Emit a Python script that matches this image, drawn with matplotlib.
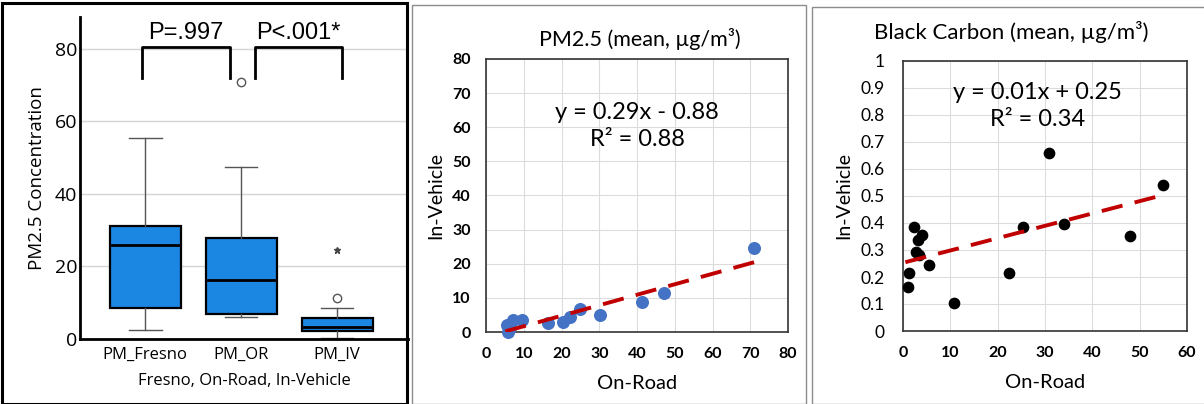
#!/usr/bin/env python3
"""Fresno / on-road / in-vehicle PM2.5 boxplot plus two in-vehicle vs on-road scatters."""

import matplotlib

matplotlib.use("Agg")
import matplotlib.pyplot as plt
import numpy as np
from matplotlib.patches import Rectangle

plt.rcParams["font.family"] = ["Lato", "DejaVu Sans"]

# ---- data ------------------------------------------------------------------
box_labels = ["PM_Fresno", "PM_OR", "PM_IV"]
box_q1 = [8.5, 6.8, 2.3]
box_med = [25.8, 16.3, 3.4]
box_q3 = [31.3, 27.8, 5.7]
box_whislo = [2.4, 6.2, 0.3]
box_whishi = [55.5, 47.5, 8.6]
box_outliers = [[], [71.0], [11.3]]
box_extremes = [[], [], [24.6]]
p_labels = ["P=.997", "P<.001*"]

pm_on_road = [5.6, 5.8, 6.4, 7.2, 9.5, 16.3, 20.4, 22.3, 25.0, 30.3, 41.3, 47.2, 70.9]
pm_in_vehicle = [2.0, 0.1, 1.2, 3.6, 3.4, 2.7, 2.9, 4.3, 6.7, 5.1, 8.7, 11.4, 24.6]
pm_eq = "y = 0.29x - 0.88\nR² = 0.88"

bc_on_road = [1.0, 1.3, 2.3, 2.8, 3.1, 3.3, 4.1, 5.4, 10.8, 22.3, 25.4, 30.8, 34.1, 47.9, 54.9]
bc_in_vehicle = [0.164, 0.216, 0.384, 0.294, 0.338, 0.28, 0.354, 0.243, 0.105, 0.216, 0.384,
                 0.660, 0.396, 0.353, 0.541]
bc_eq = "y = 0.01x + 0.25\nR² = 0.34"

W, H = 1204, 404
fig = plt.figure(figsize=(W / 100, H / 100), dpi=100)


def px_axes(left, top, right, bottom):
    return fig.add_axes([left / W, 1 - bottom / H, (right - left) / W, (bottom - top) / H])


def px_frame(left, top, right, bottom, color, lw):
    fig.add_artist(Rectangle((left / W, 1 - bottom / H), (right - left) / W, (bottom - top) / H,
                             transform=fig.transFigure, fill=False, edgecolor=color, linewidth=lw))


px_frame(1.5, 3, 407, 404.5, "black", 2.2)
px_frame(412, 5, 806, 404.5, "#8c8c8c", 1.0)
px_frame(812, 7, 1206, 404.5, "#8c8c8c", 1.0)

# ---- panel 1: boxplot -------------------------------------------------------
ax1 = px_axes(80, 17, 408, 339)
stats = []
for i, lab in enumerate(box_labels):
    stats.append(dict(label=lab, q1=box_q1[i], med=box_med[i], q3=box_q3[i],
                      whislo=box_whislo[i], whishi=box_whishi[i], fliers=box_outliers[i]))
ax1.bxp(stats, positions=[1, 2, 3], widths=0.74, patch_artist=True, capwidths=0.34,
        boxprops=dict(facecolor="#1c86e3", edgecolor="black", linewidth=1.6),
        medianprops=dict(color="black", linewidth=2.0),
        whiskerprops=dict(color="#555555", linewidth=1.0),
        capprops=dict(color="#555555", linewidth=1.0),
        flierprops=dict(marker="o", markersize=6, markerfacecolor="white",
                        markeredgecolor="#555555", markeredgewidth=1.0))
for i, ext in enumerate(box_extremes):
    if ext:
        ax1.plot([i + 1] * len(ext), ext, linestyle="none", marker="*", markersize=4.5,
                 color="#444444")
ax1.set_xlim(0.32, 3.74)
ax1.set_ylim(0, 88.8)
ax1.set_yticks([0, 20, 40, 60, 80])
ax1.grid(axis="y", color="#d4d4d4", linewidth=1.0)
ax1.set_axisbelow(True)
ax1.tick_params(axis="y", length=0, labelsize=14, pad=2)
ax1.tick_params(axis="x", length=0, labelsize=12, pad=6)
for lab in ax1.get_xticklabels() + ax1.get_yticklabels():
    lab.set_fontfamily("Open Sans")
for side in ("top", "right"):
    ax1.spines[side].set_visible(False)
for side in ("left", "bottom"):
    ax1.spines[side].set_linewidth(2.0)
ax1.set_ylabel("PM2.5 Concentration", fontsize=13.5, family="Open Sans", labelpad=6)
ax1.set_xlabel("Fresno, On-Road, In-Vehicle", fontsize=12, family="Open Sans", labelpad=7)

brackets = [(0.97, 1.88), (2.14, 3.05)]
for (x0, x1), txt in zip(brackets, p_labels):
    ax1.plot([x0, x0, x1, x1], [72, 80.5, 80.5, 72], color="black", linewidth=2.0,
             clip_on=False)
    ax1.text((x0 + x1) / 2, 84.5, txt, ha="center", va="center", fontsize=17,
             family="Liberation Sans")


# ---- panels 2 and 3: scatter with trend line -------------------------------
def scatter_panel(ax, x, y, color, size, eq, eq_xy, title, title_size, title_pad, title_x,
                  xmax, ymax, xstep, ystep, ybold):
    ax.scatter(x, y, s=size, color=color, zorder=3, clip_on=False)
    slope, icpt = np.polyfit(x, y, 1)
    xs = np.array([min(x) - 0.5, max(x) + 0.3])
    ax.plot(xs, slope * xs + icpt, color="#c00000", linewidth=2.8, dashes=(5.5, 3.2), zorder=4)
    ax.set_xlim(0, xmax)
    ax.set_ylim(0, ymax)
    ax.set_xticks(np.arange(0, xmax + xstep / 2, xstep))
    ax.set_yticks(np.arange(0, ymax + ystep / 2, ystep))
    ax.yaxis.set_major_formatter(matplotlib.ticker.FormatStrFormatter("%g"))
    ax.grid(True, color="#dcdcdc", linewidth=0.8)
    ax.set_axisbelow(True)
    ax.tick_params(axis="x", length=0, labelsize=11.5, pad=11)
    for lab in ax.get_xticklabels():
        lab.set_fontweight("bold")
    if ybold:
        ax.tick_params(axis="y", length=0, labelsize=11.5, pad=11)
        for lab in ax.get_yticklabels():
            lab.set_fontweight("bold")
    else:
        ax.tick_params(axis="y", length=0, labelsize=12.5, pad=13)
    for sp in ax.spines.values():
        sp.set_color("#333333")
        sp.set_linewidth(1.2)
    ax.set_xlabel("On-Road", fontsize=14.5, labelpad=10)
    ax.set_ylabel("In-Vehicle", fontsize=14, labelpad=6)
    ax.set_title(title, fontsize=title_size, pad=title_pad, x=title_x)
    ax.text(eq_xy[0], eq_xy[1], eq, transform=ax.transAxes, ha="center", va="center",
            fontsize=17, linespacing=1.35)


ax2 = px_axes(486, 59, 788, 332)
scatter_panel(ax2, pm_on_road, pm_in_vehicle, "#4472c4", 70, pm_eq, (0.5, 0.755),
              "PM2.5 (mean, µg/m³)", 15.5, 9, 0.51, 80, 80, 10, 10, True)
ax3 = px_axes(903, 61, 1187, 331)
scatter_panel(ax3, bc_on_road, bc_in_vehicle, "black", 55, bc_eq, (0.475, 0.833),
              "Black Carbon (mean, µg/m³)", 16, 16, 0.38, 60, 1.0, 10, 0.1, False)

fig.savefig("out.png", dpi=100)
